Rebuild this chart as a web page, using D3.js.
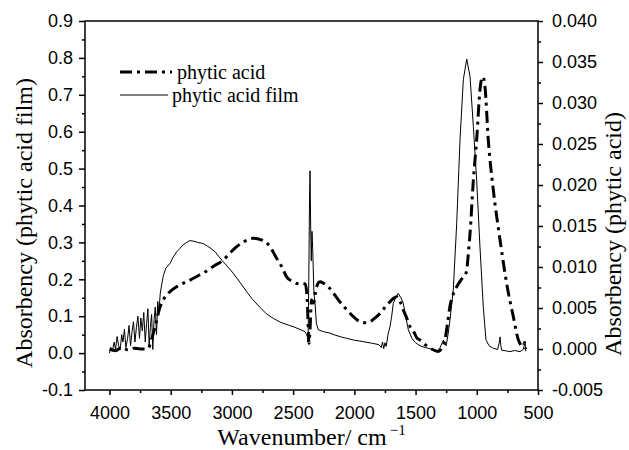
<!DOCTYPE html>
<html>
<head>
<meta charset="utf-8">
<script src="https://cdn.jsdelivr.net/npm/d3@7"></script>
<style>
  body { margin: 0; background: #fff; }
</style>
</head>
<body>
<script>
// phytic acid film (left axis)
const filmWave = [4000, 3988, 3976, 3962, 3950, 3938, 3925, 3913, 3900, 3890, 3878, 3866, 3852, 3840, 3828,
  3815, 3804, 3792, 3780, 3768, 3755, 3744, 3732, 3720, 3708, 3697, 3686, 3676, 3666, 3656, 3646, 3636,
  3626, 3616, 3606, 3596, 3586,
  3574, 3560, 3540, 3506, 3480, 3450, 3424, 3400, 3370, 3342, 3310, 3280, 3250, 3234, 3200, 3170, 3138,
  3110, 3083, 3040, 2988, 2930, 2879, 2830, 2771, 2720, 2662, 2600, 2539, 2499, 2450, 2403, 2390, 2384,
  2378, 2372, 2366, 2362, 2357, 2352, 2346, 2340, 2330, 2321, 2310, 2294, 2250, 2199, 2150, 2100, 2063,
  2000, 1927, 1860, 1800, 1780, 1770, 1760, 1750, 1740, 1725, 1709, 1695, 1682, 1660, 1641, 1620, 1600, 1586, 1559, 1530,
  1500, 1464, 1420, 1382, 1340, 1327, 1300, 1273, 1250, 1235, 1219, 1192, 1164, 1137, 1110, 1082, 1055,
  1028, 1001, 974, 947, 925, 900, 865, 830, 815, 810, 803, 797, 760, 729, 690, 647, 620, 606, 600];
const filmAbs = [0.00, 0.015, 0.005, 0.03, 0.01, 0.045, 0.02, 0.01, 0.05, 0.03, 0.065, 0.015, 0.04, 0.075, 0.02,
  0.06, 0.085, 0.03, 0.07, 0.10, 0.04, 0.095, 0.06, 0.11, 0.03, 0.08, 0.12, 0.02, 0.07, 0.105, 0.01, 0.09,
  0.125, 0.05, 0.14, 0.11, 0.16,
  0.185, 0.21, 0.23, 0.243, 0.26, 0.275, 0.284, 0.293, 0.30, 0.305, 0.303, 0.300, 0.298, 0.297, 0.29, 0.283, 0.275,
  0.263, 0.252, 0.236, 0.216, 0.19, 0.166, 0.145, 0.124, 0.107, 0.094, 0.083, 0.076, 0.0715, 0.065, 0.058, 0.05, 0.044,
  0.03, 0.2, 0.42, 0.494, 0.35, 0.25, 0.33, 0.28, 0.16, 0.135, 0.08, 0.063, 0.058, 0.054, 0.048, 0.043, 0.040,
  0.035, 0.031, 0.027, 0.023, 0.015, 0.03, 0.012, 0.028, 0.018, 0.05, 0.0715, 0.10, 0.135, 0.152, 0.162, 0.15, 0.135, 0.108, 0.063, 0.04,
  0.028, 0.02, 0.015, 0.012, 0.006, 0.004, 0.015, 0.035, 0.02, 0.05, 0.09, 0.171, 0.352, 0.577, 0.741, 0.797, 0.749,
  0.614, 0.469, 0.288, 0.126, 0.036, 0.02, 0.013, 0.01, 0.03, 0.044, 0.02, 0.008, 0.006, 0.004, 0.007, 0.004, 0.01, 0.031, 0.005];

// phytic acid (right axis)
const acidWave = [4000, 3950, 3900, 3850, 3800, 3750, 3700, 3683, 3650, 3615, 3590, 3560, 3520, 3451, 3400,
  3342, 3280, 3220, 3150, 3070, 3010, 2961, 2900, 2825, 2760, 2689, 2640, 2593, 2553, 2500, 2471, 2430, 2400,
  2385, 2370, 2360, 2350, 2335, 2310, 2281, 2250, 2213, 2170, 2131, 2080, 2036, 1990, 1954, 1910, 1872, 1830,
  1790, 1750, 1709, 1680, 1654, 1627, 1600, 1573, 1545, 1518, 1491, 1464, 1420, 1382, 1340, 1314, 1290, 1260,
  1240, 1219, 1190, 1164, 1130, 1110, 1090, 1082, 1070, 1055, 1028, 1001, 974, 960, 952, 940, 933, 906, 865,
  810, 756, 701, 660, 620, 610, 600];
const acidAbs = [0.0, -0.0002, 0.0002, -0.0001, 0.0001, 0.0, 0.0, 0.0001, 0.0015, 0.0035, 0.005, 0.006, 0.0068, 0.0076, 0.008,
  0.0084, 0.0089, 0.0094, 0.0101, 0.01085, 0.0118, 0.01248, 0.0131, 0.0135, 0.0133, 0.01248, 0.0112, 0.01004, 0.0088, 0.0082, 0.0080, 0.0080, 0.0079,
  0.006, 0.0007, 0.003, 0.006, 0.0056, 0.0075, 0.0082, 0.0080, 0.0076, 0.0068, 0.0060, 0.0051, 0.00435, 0.0037, 0.00333, 0.0032, 0.00333, 0.0038,
  0.00435, 0.0051, 0.00577, 0.0062, 0.00638, 0.0058, 0.00476, 0.0038, 0.00272, 0.0022, 0.0014, 0.0011, 0.0005, 0.0001, -0.0002, -0.0003, 0.0, 0.0011,
  0.003, 0.0052, 0.0068, 0.0076, 0.0084, 0.0088, 0.0092, 0.0096, 0.0115, 0.0141, 0.0206, 0.0255, 0.0316, 0.0330, 0.0332, 0.0328, 0.0320, 0.0255, 0.0194,
  0.0133, 0.0080, 0.0039, 0.0011, 0.0003, 0.0008, 0.0];

const xTicks = [4000, 3500, 3000, 2500, 2000, 1500, 1000, 500];
const leftTicks = [-0.1, 0.0, 0.1, 0.2, 0.3, 0.4, 0.5, 0.6, 0.7, 0.8, 0.9];
const rightTicks = [-0.005, 0.000, 0.005, 0.010, 0.015, 0.020, 0.025, 0.030, 0.035, 0.040];
const seriesNames = ['phytic acid', 'phytic acid film'];

const sans = '"Liberation Sans", Arial, sans-serif';
const serif = '"Liberation Serif", "Times New Roman", serif';

const width = 629, height = 450;
const margin = { top: 21, right: 91, bottom: 60, left: 85 };
const iw = width - margin.left - margin.right;
const ih = height - margin.top - margin.bottom;

const svg = d3.select('body').append('svg')
  .attr('width', width)
  .attr('height', height);

const g = svg.append('g')
  .attr('transform', `translate(${margin.left},${margin.top})`);

const x = d3.scaleLinear().domain([4200, 500]).range([0, iw]);
const yL = d3.scaleLinear().domain([-0.1, 0.9]).range([ih, 0]);
const yR = d3.scaleLinear().domain([-0.005, 0.040]).range([ih, 0]);

const fmt = (p) => (d) => d3.format('.' + p + 'f')(d).replace('\u2212', '-');

// minor ticks halfway between majors
const mid = (arr) => arr.slice(0, -1).map((d, i) => (d + arr[i + 1]) / 2);

function styleAxis(sel) {
  sel.select('.domain').remove();
  sel.selectAll('line').attr('stroke', '#000').attr('stroke-width', 1.5);
  sel.selectAll('text').attr('font-family', sans).attr('font-size', 18).attr('fill', '#000');
}

// bottom axis
g.append('g').attr('transform', `translate(0,${ih})`)
  .call(d3.axisBottom(x).tickValues(mid(xTicks)).tickSize(3).tickFormat(''))
  .call(styleAxis);
g.append('g').attr('transform', `translate(0,${ih})`)
  .call(d3.axisBottom(x).tickValues(xTicks).tickSize(5).tickPadding(11).tickFormat(d3.format('d')))
  .call(styleAxis);

// left axis
g.append('g')
  .call(d3.axisLeft(yL).tickValues(mid(leftTicks)).tickSize(3).tickFormat(''))
  .call(styleAxis);
g.append('g')
  .call(d3.axisLeft(yL).tickValues(leftTicks).tickSize(6).tickPadding(6).tickFormat(fmt(1)))
  .call(styleAxis);

// right axis
g.append('g').attr('transform', `translate(${iw},0)`)
  .call(d3.axisRight(yR).tickValues(mid(rightTicks)).tickSize(3).tickFormat(''))
  .call(styleAxis);
g.append('g').attr('transform', `translate(${iw},0)`)
  .call(d3.axisRight(yR).tickValues(rightTicks).tickSize(5).tickPadding(9).tickFormat(fmt(3)))
  .call(styleAxis);

// frame
g.append('rect')
  .attr('width', iw).attr('height', ih)
  .attr('fill', 'none').attr('stroke', '#000').attr('stroke-width', 1.5);

// curves
const film = filmWave.map((w, i) => [w, filmAbs[i]]);
const acid = acidWave.map((w, i) => [w, acidAbs[i]]);

g.append('path').datum(film)
  .attr('fill', 'none').attr('stroke', '#000').attr('stroke-width', 1)
  .attr('d', d3.line().x(d => x(d[0])).y(d => yL(d[1])));

g.append('path').datum(acid)
  .attr('fill', 'none').attr('stroke', '#000').attr('stroke-width', 3)
  .attr('stroke-dasharray', '12 5 3 5')
  .attr('d', d3.line().curve(d3.curveMonotoneX).x(d => x(d[0])).y(d => yR(d[1])));

// legend
const leg = svg.append('g').attr('font-family', serif).attr('font-size', 20);
leg.append('line').attr('x1', 120).attr('x2', 172).attr('y1', 72).attr('y2', 72)
  .attr('stroke', '#000').attr('stroke-width', 3).attr('stroke-dasharray', '12 5 3 5');
leg.append('text').attr('x', 177).attr('y', 79).text(seriesNames[0]);
leg.append('line').attr('x1', 120).attr('x2', 168).attr('y1', 95).attr('y2', 95)
  .attr('stroke', '#000').attr('stroke-width', 1);
leg.append('text').attr('x', 172).attr('y', 102).text(seriesNames[1]);

// axis titles
const titles = svg.append('g').attr('font-family', serif).attr('font-size', 24).attr('fill', '#000');

const xt = titles.append('text')
  .attr('x', margin.left + iw / 2).attr('y', 445).attr('text-anchor', 'middle');
xt.append('tspan').text('Wavenumber/ cm');
xt.append('tspan').attr('dy', -10).attr('dx', 3).attr('font-size', 15).text('\u22121');

titles.append('text')
  .attr('transform', 'translate(32,223) rotate(-90)')
  .attr('text-anchor', 'middle')
  .text('Absorbency (phytic acid film)');

titles.append('text')
  .attr('transform', 'translate(621,234) rotate(-90)')
  .attr('text-anchor', 'middle')
  .text('Absorbency (phytic acid)');
</script>
</body>
</html>
